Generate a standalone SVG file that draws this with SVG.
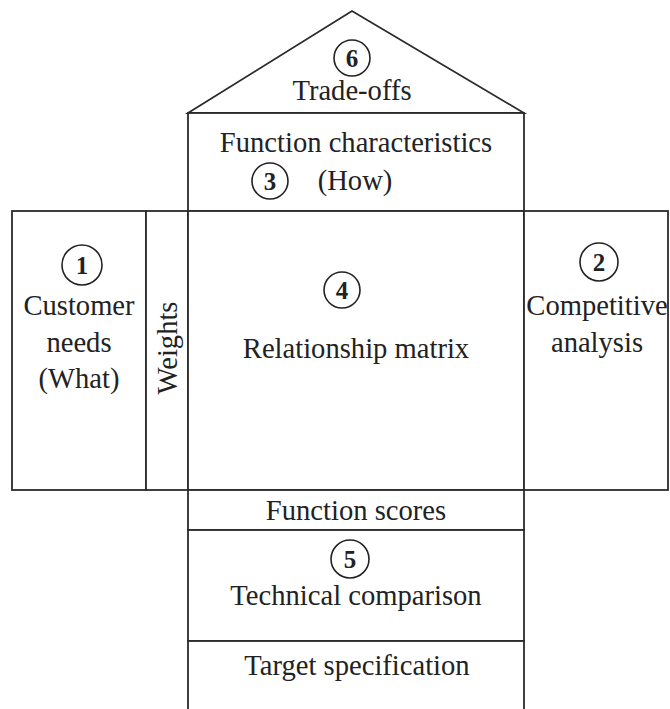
<svg xmlns="http://www.w3.org/2000/svg" width="670" height="709" viewBox="0 0 670 709">
<style>
.box{fill:#fff;stroke:#2b2b2b;stroke-width:1.8}
.t{font-family:"Liberation Serif","Times New Roman",serif;font-size:28.6px;fill:#222;text-anchor:middle}
.c{fill:none;stroke:#222;stroke-width:1.6}
.n{font-family:"Liberation Serif","Times New Roman",serif;font-size:25px;font-weight:bold;fill:#222;text-anchor:middle}
</style>
<rect width="670" height="709" fill="#fff"/>
<g id="trade-offs">
<polygon class="box" points="188,113 352,11 524,113"/>
<circle class="c" cx="352" cy="58" r="18"/>
<text class="n" x="352" y="67">6</text>
<text class="t" x="352" y="100">Trade-offs</text>
</g>
<g id="function-characteristics">
<rect class="box" x="188" y="113" width="336" height="98"/>
<text class="t" x="356" y="152">Function characteristics</text>
<circle class="c" cx="270" cy="181" r="18"/>
<text class="n" x="270" y="190">3</text>
<text class="t" x="355" y="190">(How)</text>
</g>
<g id="customer-needs">
<rect class="box" x="12" y="211" width="134" height="279"/>
<circle class="c" cx="82" cy="265" r="20"/>
<text class="n" x="82" y="274">1</text>
<text class="t" x="79" y="315">Customer</text>
<text class="t" x="79" y="352">needs</text>
<text class="t" x="79" y="388">(What)</text>
</g>
<g id="weights">
<rect class="box" x="146" y="211" width="42" height="279"/>
<text class="t" transform="translate(177,348) rotate(-90)">Weights</text>
</g>
<g id="relationship-matrix">
<rect class="box" x="188" y="211" width="336" height="279"/>
<circle class="c" cx="342" cy="290" r="18"/>
<text class="n" x="342" y="299">4</text>
<text class="t" x="356" y="358">Relationship matrix</text>
</g>
<g id="competitive-analysis">
<rect class="box" x="524" y="211" width="144" height="279"/>
<circle class="c" cx="599" cy="262" r="19"/>
<text class="n" x="599" y="271">2</text>
<text class="t" x="597" y="315">Competitive</text>
<text class="t" x="597" y="352">analysis</text>
</g>
<g id="function-scores">
<rect class="box" x="188" y="490" width="336" height="40"/>
<text class="t" x="356" y="520">Function scores</text>
</g>
<g id="technical-comparison">
<rect class="box" x="188" y="530" width="336" height="111"/>
<circle class="c" cx="350" cy="559" r="19"/>
<text class="n" x="350" y="568">5</text>
<text class="t" x="356" y="605">Technical comparison</text>
</g>
<g id="target-specification">
<rect class="box" x="188" y="641" width="336" height="75"/>
<text class="t" x="357" y="675">Target specification</text>
</g>
<g id="connectors"></g>
</svg>
